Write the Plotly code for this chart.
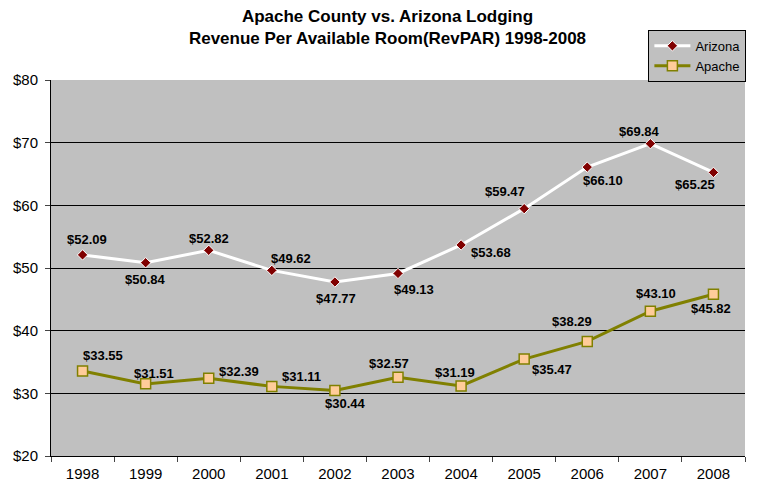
import plotly.graph_objects as go

years = ["1998", "1999", "2000", "2001", "2002", "2003", "2004", "2005", "2006", "2007", "2008"]
arizona = [52.09, 50.84, 52.82, 49.62, 47.77, 49.13, 53.68, 59.47, 66.10, 69.84, 65.25]
apache = [33.55, 31.51, 32.39, 31.11, 30.44, 32.57, 31.19, 35.47, 38.29, 43.10, 45.82]

# label offsets in pixels (x, y up)
az_shift = [(4, 15), (0, -17), (0, 12), (19, 12), (1, -17), (16, -16),
            (30, -8), (-19, 17), (16, -13), (-11, 12), (-18, -12)]
ap_shift = [(20, 16), (8, 10), (30, 7), (30, 10), (11, -13), (-9, 14),
            (-6, 13), (28, -10), (-15, 20), (6, 18), (-2, -14)]

fig = go.Figure()
fig.add_trace(go.Scatter(
    x=years, y=arizona, name="Arizona", mode="lines+markers",
    line=dict(color="white", width=3),
    marker=dict(symbol="diamond", size=8, color="#800000", line=dict(color="white", width=1)),
))
fig.add_trace(go.Scatter(
    x=years, y=apache, name="Apache", mode="lines+markers",
    line=dict(color="#808000", width=3),
    marker=dict(symbol="square", size=10, color="#FFCC99", line=dict(color="#808000", width=1.5)),
))

# annotations on a category axis take the category index
for vals, shifts in [(arizona, az_shift), (apache, ap_shift)]:
    for i, (v, (dx, dy)) in enumerate(zip(vals, shifts)):
        fig.add_annotation(
            x=i, y=v, text=f"${v:.2f}", showarrow=False,
            xshift=dx, yshift=dy,
            font=dict(family="Arial", size=13, color="black", weight="bold"),
        )

# page puts the figure 8px in from the top-left corner
fig.update_layout(
    width=759, height=489,
    margin=dict(l=43, r=22, t=72, b=41, autoexpand=False),
    paper_bgcolor="white",
    plot_bgcolor="#C0C0C0",
    font=dict(family="Arial", size=15, color="black"),
    title=dict(
        text="<b>Apache County vs. Arizona Lodging</b><br><b>Revenue Per Available Room(RevPAR) 1998-2008</b>",
        x=0.5, xanchor="center", y=0.972, yanchor="top", pad=dict(t=0),
        font=dict(size=17),
    ),
    legend=dict(
        x=1.002, xanchor="right", y=0.995, yanchor="bottom",
        bgcolor="#C0C0C0", bordercolor="black", borderwidth=1,
        font=dict(size=13), tracegroupgap=0, itemwidth=36,
    ),
    showlegend=True,
)
fig.update_xaxes(
    type="category", range=[-0.5, len(years) - 0.5],
    tickson="boundaries", ticks="outside", ticklen=5, ticklabelstandoff=4,
    showline=True, linecolor="black", linewidth=1, showgrid=False,
)
fig.update_yaxes(
    range=[20, 80], dtick=10, tickprefix="$", ticks="outside", ticklen=5,
    ticklabelstandoff=4,
    showline=True, linecolor="black", linewidth=1,
    showgrid=True, gridcolor="black", gridwidth=1, zeroline=False,
)

fig.write_html("out.html")
